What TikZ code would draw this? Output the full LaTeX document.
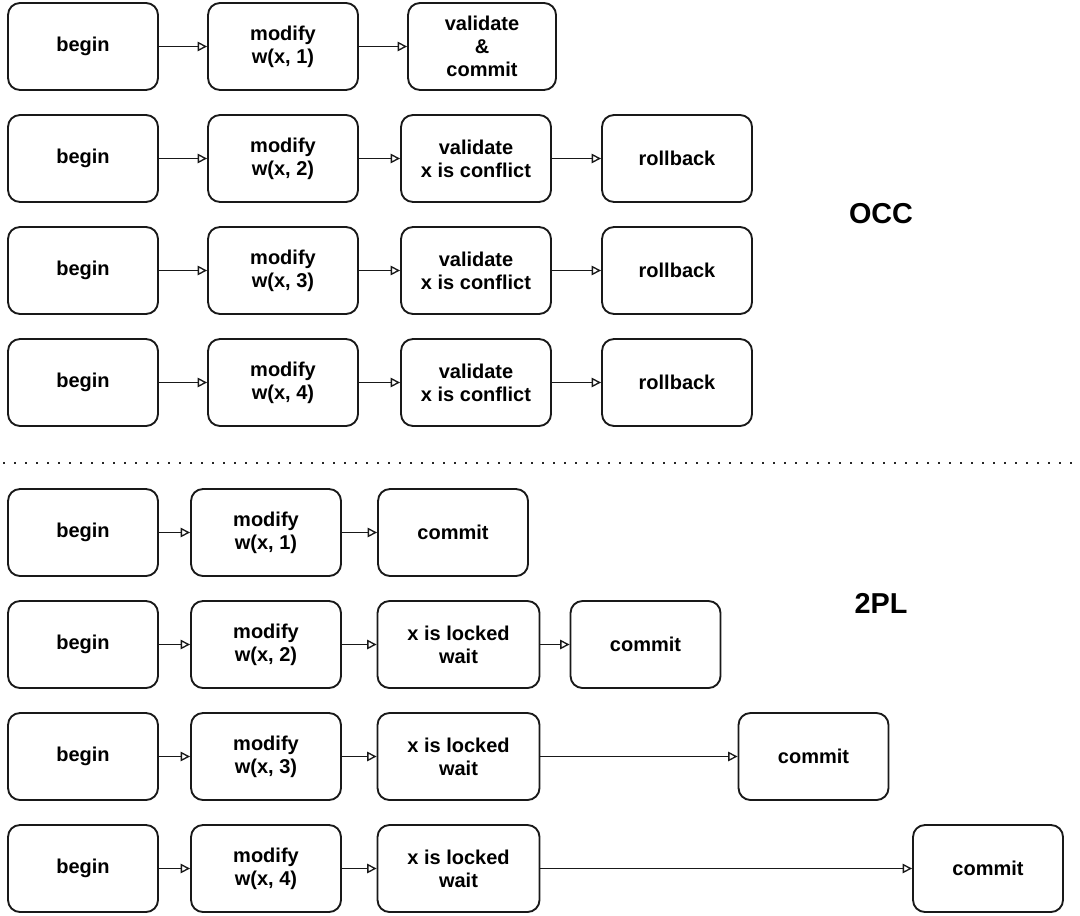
\documentclass[tikz,border=0pt]{standalone}
\usepackage{fontspec}
\setmainfont{Liberation Sans}
\usetikzlibrary{arrows.meta}
\tikzset{
  box/.style={draw=black!90, line width=1.4pt, rounded corners=9pt, fill=white,
    minimum width=112.5pt, minimum height=65.25pt, align=center, inner sep=2pt,
    font=\fontsize{15pt}{17.3pt}\selectfont\bfseries},
  wide/.style={minimum width=121.5pt},
  conn/.style={draw=black!90, line width=1.3pt, -{Triangle[open,length=7pt,width=7pt,line width=1pt]}},
  title/.style={font=\fontsize{21.6pt}{25pt}\selectfont\bfseries},
}
\begin{document}
\begin{tikzpicture}[x=0.75pt,y=-0.75pt]
\useasboundingbox (0,0) rectangle (1080,916);
% OCC row 1
\node[box] (o1a) at (83,46.5) {begin};
\node[box] (o1b) at (283,46.5) {modify\\w(x, 1)};
\node[box, minimum width=111pt] (o1c) at (482,46.5) {validate\\\&\\commit};
\draw[conn] (o1a) -- (o1b);
\draw[conn] (o1b) -- (o1c);
% OCC rows 2-4
\foreach \i/\y in {2/158.5,3/270.5,4/382.5}{
  \node[box] (o\i a) at (83,\y) {begin};
  \node[box] (o\i b) at (283,\y) {modify\\w(x, \i)};
  \node[box] (o\i c) at (476,\y) {validate\\x is conflict};
  \node[box] (o\i d) at (677,\y) {rollback};
  \draw[conn] (o\i a) -- (o\i b);
  \draw[conn] (o\i b) -- (o\i c);
  \draw[conn] (o\i c) -- (o\i d);
}
\node[title] (occ) at (881,214) {OCC};
% separator
\coordinate (sepL) at (3,463);
\coordinate (sepR) at (1080,463);
\draw[line width=1.6pt, dash pattern=on 1.6pt off 6.65pt, black!85] (sepL) -- (sepR);
% 2PL row 1
\node[box] (p1a) at (83,532.5) {begin};
\node[box] (p1b) at (266,532.5) {modify\\w(x, 1)};
\node[box] (p1c) at (453,532.5) {commit};
\draw[conn] (p1a) -- (p1b);
\draw[conn] (p1b) -- (p1c);
% 2PL rows 2-4
\foreach \i/\y/\cx in {2/644.5/645.5,3/756.5/813.5,4/868.5/988}{
  \node[box] (p\i a) at (83,\y) {begin};
  \node[box] (p\i b) at (266,\y) {modify\\w(x, \i)};
  \node[box, wide] (p\i c) at (458.5,\y) {x is locked\\wait};
  \node[box] (p\i d) at (\cx,\y) {commit};
  \draw[conn] (p\i a) -- (p\i b);
  \draw[conn] (p\i b) -- (p\i c);
  \draw[conn] (p\i c) -- (p\i d);
}
\node[title] (tpl) at (881,603) {2PL};
\end{tikzpicture}
\end{document}
